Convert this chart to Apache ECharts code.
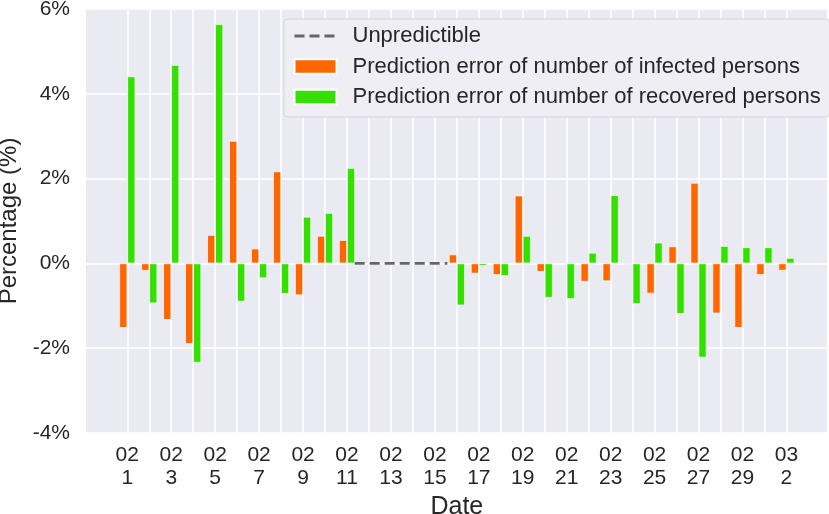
<!DOCTYPE html>
<html>
<head>
<meta charset="utf-8">
<script src="https://cdn.jsdelivr.net/npm/echarts@6/dist/echarts.min.js"></script>
<style>
html,body{margin:0;padding:0;background:#fff;}
#chart{width:829px;height:514px;}
</style>
</head>
<body>
<div id="chart"></div>
<script>
// Dates (month-day)
const dates = ['02-01','02-02','02-03','02-04','02-05','02-06','02-07','02-08','02-09','02-10',
  '02-11','02-12','02-13','02-14','02-15','02-16','02-17','02-18','02-19','02-20',
  '02-21','02-22','02-23','02-24','02-25','02-26','02-27','02-28','02-29','03-01','03-02'];
// Prediction error of number of infected persons (%)
const infected = [-1.52,-0.17,-1.33,-1.90,0.67,2.89,0.35,2.17,-0.75,0.65,
  0.55,null,null,null,null,0.21,-0.24,-0.27,1.60,-0.20,
  -0.02,-0.43,-0.42,-0.03,-0.71,0.40,1.90,-1.18,-1.52,-0.27,-0.17];
// Prediction error of number of recovered persons (%)
const recovered = [4.41,-0.94,4.68,-2.34,5.64,-0.90,-0.35,-0.72,1.10,1.19,
  2.25,null,null,null,null,-0.99,-0.06,-0.30,0.65,-0.81,
  -0.84,0.25,1.61,-0.96,0.49,-1.19,-2.22,0.41,0.38,0.38,0.13];
// Unpredictible span (in date-index units) at 0%
const unpredictX = [10.35, 14.57];
const unpredictY = [0, 0];
// y tick values
const yTicks = [-4, -2, 0, 2, 4, 6];

const FONT = '"Liberation Sans", Arial, Helvetica, sans-serif';
const TXT = '#262626';

function pairs(vals){
  const out = [];
  vals.forEach((v,i)=>{ if(v!==null) out.push([i,v]); });
  return out;
}
function dateLabel(v){
  const i = Math.round(v);
  if (Math.abs(v - i) > 1e-6 || i % 2 !== 0 || i < 0 || i >= dates.length) return '';
  const p = dates[i].split('-');
  return p[0] + '\n' + String(parseInt(p[1],10));
}

const chart = echarts.init(document.getElementById('chart'), null, {renderer:'canvas'});
chart.setOption({
  animation: false,
  backgroundColor: '#ffffff',
  textStyle: {fontFamily: FONT},
  grid: [
    {left: 86, right: 2, top: 9, bottom: 81, show: true, backgroundColor: '#eaeaf2', borderWidth: 0,
      containLabel: false, outerBoundsMode: 'none'},
    {left: 127.3, right: 42.6, top: 9, bottom: 81, show: false, containLabel: false, outerBoundsMode: 'none'}
  ],
  xAxis: [
    {gridIndex: 0, type: 'value', min: 0, max: 1, show: false},
    {gridIndex: 1, type: 'value', min: 0, max: dates.length - 1, interval: 1,
      axisLine: {show: false}, axisTick: {show: false},
      splitLine: {show: true, lineStyle: {color: '#ffffff', width: 1.5}},
      axisLabel: {formatter: dateLabel, fontSize: 21, lineHeight: 23, color: TXT, margin: 11, fontFamily: FONT,
        showMinLabel: true, showMaxLabel: true},
      name: 'Date', nameLocation: 'middle', nameGap: 52,
      nameTextStyle: {fontSize: 25, color: TXT, fontFamily: FONT}
    }
  ],
  yAxis: [
    {gridIndex: 0, type: 'value', min: yTicks[0], max: yTicks[yTicks.length-1], interval: 2,
      axisLine: {show: false}, axisTick: {show: false},
      splitLine: {show: true, lineStyle: {color: '#ffffff', width: 1.5}},
      axisLabel: {formatter: '{value}%', fontSize: 21, color: TXT, margin: 16, fontFamily: FONT},
      name: 'Percentage (%)', nameLocation: 'middle', nameGap: 62,
      nameTextStyle: {fontSize: 24, color: TXT, fontFamily: FONT}
    },
    {gridIndex: 1, type: 'value', min: yTicks[0], max: yTicks[yTicks.length-1], show: false}
  ],
  legend: {
    orient: 'vertical', left: 284, top: 19,
    itemWidth: 42, itemHeight: 14.5, itemGap: 8.5,
    padding: [6, 9, 9, 9],
    backgroundColor: '#eeeef4', borderColor: '#d3d3d8', borderWidth: 1, borderRadius: 4,
    textStyle: {fontSize: 22, color: TXT, fontFamily: FONT, padding: [0, 0, 0, 11]},
    data: [
      {name: 'Unpredictible', itemStyle: {opacity: 0},
        lineStyle: {width: 3, type: [10, 5], color: '#5e696d'}},
      {name: 'Prediction error of number of infected persons', icon: 'rect'},
      {name: 'Prediction error of number of recovered persons', icon: 'rect'}
    ]
  },
  series: [
    {
      name: 'Unpredictible', type: 'line', xAxisIndex: 1, yAxisIndex: 1,
      data: unpredictX.map((x,i)=>[x, unpredictY[i]]),
      symbol: 'none', z: 4,
      lineStyle: {color: '#5e696d', width: 2.6, type: [10, 5]},
      itemStyle: {color: '#5e696d'}
    },
    {
      name: 'Prediction error of number of infected persons', type: 'bar', xAxisIndex: 1, yAxisIndex: 1,
      data: pairs(infected), barWidth: 8, barGap: '0%', clip: false,
      itemStyle: {color: '#ff6600', borderColor: '#ffffff', borderWidth: 0.7}
    },
    {
      name: 'Prediction error of number of recovered persons', type: 'bar', xAxisIndex: 1, yAxisIndex: 1,
      data: pairs(recovered), barWidth: 8, barGap: '0%', clip: false,
      itemStyle: {color: '#33e000', borderColor: '#ffffff', borderWidth: 0.7}
    }
  ]
});
</script>
</body>
</html>
